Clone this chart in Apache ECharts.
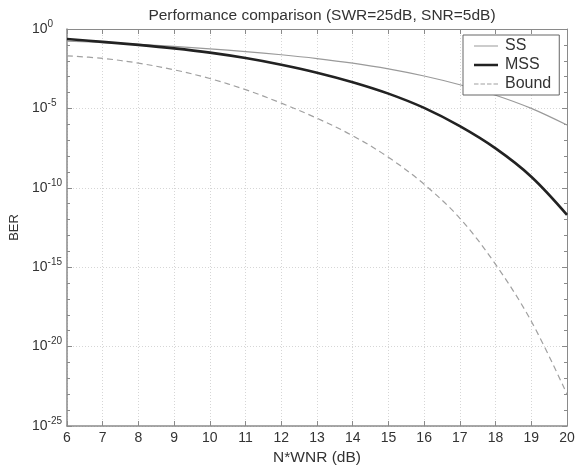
<!DOCTYPE html>
<html>
<head>
<meta charset="utf-8">
<script src="https://cdn.jsdelivr.net/npm/echarts@6/dist/echarts.min.js"></script>
<style>html,body{margin:0;padding:0;background:#fff;}#c{width:582px;height:465px;}</style>
</head>
<body>
<div id="c"></div>
<script>
// N*WNR (dB)
const xValues = [6, 7, 8, 9, 10, 11, 12, 13, 14, 15, 16, 17, 18, 19, 20];
// BER exponents (log10 BER)
const ssExp    = [-0.76, -0.86, -0.97, -1.10, -1.25, -1.42, -1.62, -1.86, -2.15, -2.51, -2.96, -3.51, -4.17, -5.00, -6.05];
const mssExp   = [-0.63, -0.81, -1.00, -1.22, -1.49, -1.83, -2.25, -2.75, -3.35, -4.07, -4.97, -6.12, -7.52, -9.30, -11.70];
const boundExp = [-1.69, -1.85, -2.15, -2.57, -3.12, -3.82, -4.67, -5.62, -6.72, -8.08, -9.78, -11.92, -14.82, -18.40, -23.00];
const seriesNames = ['SS', 'MSS', 'Bound'];
const yTickExps = [-25, -20, -15, -10, -5, 0];
const xTicks = [6, 7, 8, 9, 10, 11, 12, 13, 14, 15, 16, 17, 18, 19, 20];

const pairs = (ys) => xValues.map((x, i) => [x, ys[i]]);
const FONT = '"Liberation Sans", Arial, sans-serif';
const axisGray = '#8a8a8a';
const colors = ['#9a9a9a', '#222222', '#a0a0a0'];

// legend icons (24 x 14 box; tiny corner marks fix the bounding box)
const box = 'M0,0L0.01,0L0,0.01Z M24,14L23.99,14L24,13.99Z ';
const legendIcons = [
  'path://' + box + 'M0,6.4h24v1.2h-24Z',
  'path://' + box + 'M0,5.7h24v2.6h-24Z',
  'path://' + box + 'M0,6.4h4.5v1.2h-4.5Z M6.5,6.4h4.5v1.2h-4.5Z M13,6.4h4.5v1.2h-4.5Z M19.5,6.4h4.5v1.2h-4.5Z'
];

const chart = echarts.init(document.getElementById('c'), null, {renderer: 'canvas'});
chart.setOption({
  animation: false,
  backgroundColor: '#ffffff',
  textStyle: {fontFamily: FONT},
  title: {
    text: 'Performance comparison (SWR=25dB, SNR=5dB)',
    left: 317, top: 3, textAlign: 'center',
    textStyle: {fontFamily: FONT, fontSize: 15.5, fontWeight: 'normal', color: '#333'}
  },
  legend: {
    data: seriesNames.map((n, i) => ({name: n, icon: legendIcons[i], itemStyle: {color: colors[i]}})),
    orient: 'vertical',
    left: 463, top: 35,
    itemWidth: 24, itemHeight: 14, itemGap: 3,
    padding: [3, 8, 3, 11],
    borderColor: '#666', borderWidth: 1, backgroundColor: '#fff',
    textStyle: {fontFamily: FONT, fontSize: 16, color: '#333', padding: [0, 0, 0, 2]}
  },
  grid: {left: 67, right: 15, top: 29, bottom: 39, containLabel: false, outerBoundsMode: 'none'},
  xAxis: [{
    type: 'value', min: 6, max: 20, interval: 1,
    name: 'N*WNR (dB)', nameLocation: 'middle', nameGap: 23,
    nameTextStyle: {fontFamily: FONT, fontSize: 15.5, color: '#333'},
    axisLine: {show: true, onZero: false, lineStyle: {color: axisGray, width: 1.5}},
    axisTick: {show: true, inside: true, length: 5, lineStyle: {color: axisGray}},
    axisLabel: {fontFamily: FONT, fontSize: 14, color: '#333', margin: 5,
      formatter: (v) => xTicks.indexOf(v) >= 0 ? String(v) : ''},
    splitLine: {show: true, lineStyle: {color: '#d6d6d6', type: [1, 2], width: 1}}
  }, {
    type: 'value', min: 6, max: 20, interval: 1, position: 'top',
    axisLine: {show: true, onZero: false, lineStyle: {color: axisGray, width: 1}},
    axisTick: {show: true, inside: true, length: 5, lineStyle: {color: axisGray}},
    axisLabel: {show: false}, splitLine: {show: false}
  }],
  yAxis: [{
    type: 'value', min: -25, max: 0, interval: 5,
    name: 'BER', nameLocation: 'middle', nameGap: 38,
    nameTextStyle: {fontFamily: FONT, fontSize: 13, color: '#333'},
    axisLine: {show: true, onZero: false, lineStyle: {color: axisGray, width: 1.5}},
    axisTick: {show: true, inside: true, length: 5, lineStyle: {color: axisGray}},
    minorTick: {show: true, splitNumber: 5, length: 3, lineStyle: {color: axisGray}},
    axisLabel: {
      margin: 35, align: 'left',
      formatter: (v) => yTickExps.indexOf(v) >= 0 ? '{b|10}{s|' + v + '}' : '',
      rich: {
        b: {fontFamily: FONT, fontSize: 14, color: '#333'},
        s: {fontFamily: FONT, fontSize: 10, color: '#333', padding: [0, 0, 10, 0]}
      }
    },
    splitLine: {show: true, lineStyle: {color: '#d6d6d6', type: [1, 2], width: 1}}
  }, {
    type: 'value', min: -25, max: 0, interval: 5, position: 'right',
    axisLine: {show: true, onZero: false, lineStyle: {color: axisGray, width: 1}},
    axisTick: {show: true, inside: true, length: 5, lineStyle: {color: axisGray}},
    minorTick: {show: true, splitNumber: 5, length: 3, lineStyle: {color: axisGray}},
    axisLabel: {show: false}, splitLine: {show: false}
  }],
  series: [{
    name: seriesNames[0], type: 'line', data: pairs(ssExp),
    symbol: 'none', smooth: 0.35,
    lineStyle: {color: colors[0], width: 1.2}, itemStyle: {color: colors[0]}
  }, {
    name: seriesNames[1], type: 'line', data: pairs(mssExp),
    symbol: 'none', smooth: 0.35,
    lineStyle: {color: colors[1], width: 2.6}, itemStyle: {color: colors[1]}
  }, {
    name: seriesNames[2], type: 'line', data: pairs(boundExp),
    symbol: 'none', smooth: 0.35,
    lineStyle: {color: colors[2], width: 1.2, type: [6, 4]}, itemStyle: {color: colors[2]}
  }]
});
</script>
</body>
</html>
